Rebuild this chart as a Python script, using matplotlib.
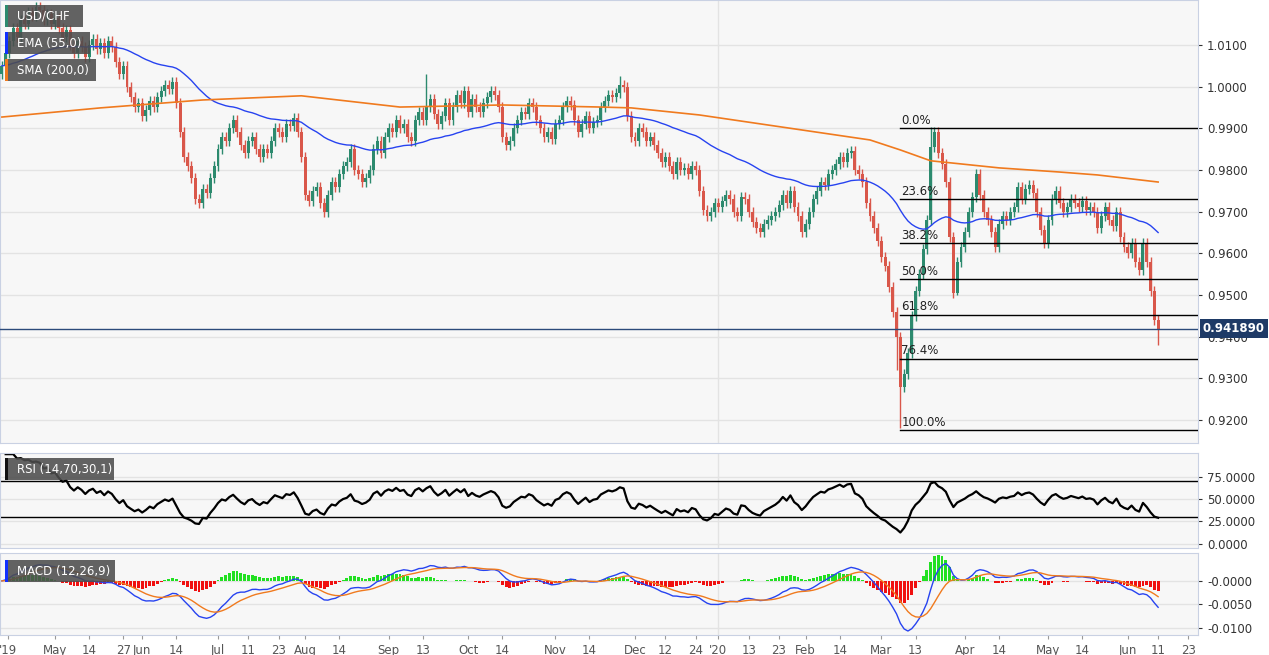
import numpy as np
import pandas as pd
import matplotlib
matplotlib.use('Agg')
import matplotlib.pyplot as plt
from matplotlib.patches import Rectangle

# ---------------------------------------------------------------- data
CLOSES = [
    1.0050, 1.0080, 1.0110, 1.0140, 1.0120, 1.0160, 1.0150, 1.0180, 1.0170, 1.0190, 1.0185,
    1.0160, 1.0175, 1.0150, 1.0165, 1.0140, 1.0120, 1.0135, 1.0100, 1.0080, 1.0110,
    1.0095, 1.0070, 1.0100, 1.0115, 1.0090, 1.0105, 1.0080, 1.0110, 1.0095, 1.0060,
    1.0030, 1.0050, 1.0000, 0.9975, 0.9950, 0.9960, 0.9930, 0.9945, 0.9965, 0.9950,
    0.9975, 0.9990, 1.0005, 0.9995, 1.0010, 0.9960, 0.9890, 0.9830, 0.9810, 0.9780,
    0.9730, 0.9720, 0.9755, 0.9745, 0.9780, 0.9810, 0.9850, 0.9880, 0.9870, 0.9900,
    0.9920, 0.9890, 0.9860, 0.9840, 0.9870, 0.9880, 0.9850, 0.9830, 0.9850, 0.9840,
    0.9870, 0.9900, 0.9890, 0.9880, 0.9910, 0.9905, 0.9925, 0.9890, 0.9830, 0.9740,
    0.9725, 0.9750, 0.9760, 0.9720, 0.9700, 0.9740, 0.9770, 0.9760, 0.9790, 0.9810,
    0.9820, 0.9850, 0.9800, 0.9790, 0.9770, 0.9780, 0.9800, 0.9850, 0.9870, 0.9840,
    0.9880, 0.9900, 0.9890, 0.9920, 0.9900, 0.9910, 0.9880, 0.9870, 0.9920, 0.9940,
    0.9920, 0.9950, 0.9970, 0.9935, 0.9910, 0.9930, 0.9960, 0.9920, 0.9950, 0.9980,
    0.9960, 0.9990, 0.9940, 0.9970, 0.9950, 0.9940, 0.9960, 0.9975, 0.9990, 0.9980,
    0.9950, 0.9880, 0.9860, 0.9870, 0.9900, 0.9920, 0.9940, 0.9935, 0.9960, 0.9950,
    0.9920, 0.9900, 0.9880, 0.9890, 0.9875, 0.9910, 0.9920, 0.9950, 0.9965, 0.9955,
    0.9920, 0.9890, 0.9910, 0.9930, 0.9900, 0.9915, 0.9920, 0.9950, 0.9965, 0.9980,
    0.9975, 0.9985, 1.0005, 1.0000, 0.9930, 0.9880, 0.9870, 0.9900, 0.9890, 0.9870,
    0.9880, 0.9860, 0.9840, 0.9820, 0.9830, 0.9810, 0.9790, 0.9820, 0.9800, 0.9805,
    0.9790, 0.9810, 0.9800, 0.9750, 0.9705, 0.9690, 0.9700, 0.9720, 0.9710, 0.9725,
    0.9740, 0.9730, 0.9700, 0.9690, 0.9735, 0.9730, 0.9700, 0.9675, 0.9660, 0.9650,
    0.9670, 0.9680, 0.9690, 0.9700, 0.9715, 0.9740, 0.9720, 0.9750, 0.9710, 0.9690,
    0.9650, 0.9670, 0.9700, 0.9730, 0.9750, 0.9770, 0.9765, 0.9790, 0.9800, 0.9815,
    0.9830, 0.9820, 0.9840, 0.9845, 0.9800, 0.9790, 0.9770, 0.9720, 0.9690, 0.9660,
    0.9630, 0.9590, 0.9570, 0.9520, 0.9460, 0.9400, 0.9280, 0.9310, 0.9360, 0.9450,
    0.9510, 0.9550, 0.9610, 0.9680, 0.9855, 0.9890, 0.9840, 0.9815, 0.9770, 0.9640,
    0.9505, 0.9580, 0.9615, 0.9650, 0.9700, 0.9735, 0.9790, 0.9740, 0.9700, 0.9680,
    0.9650, 0.9615, 0.9670, 0.9690, 0.9680, 0.9700, 0.9710, 0.9760, 0.9730, 0.9755,
    0.9765, 0.9745, 0.9700, 0.9657, 0.9625, 0.9680, 0.9730, 0.9750, 0.9720, 0.9700,
    0.9710, 0.9730, 0.9720, 0.9710, 0.9725, 0.9705, 0.9710, 0.9700, 0.9660, 0.9690,
    0.9710, 0.9680, 0.9665, 0.9700, 0.9640, 0.9615, 0.9600, 0.9625, 0.9580, 0.9560,
    0.9625, 0.9580, 0.9510, 0.9440, 0.9419,
]
FIRST_OPEN = 1.0030
WICK = 0.0012
HIGH_OVERRIDE = {245: 0.9902, 163: 1.0025, 112: 1.0030}
LOW_OVERRIDE = {237: 0.9180, 236: 0.9320, 305: 0.9380, 252: 0.9500}
LAST_PRICE = 0.941890

# SMA(200) (needs history before the window)
SMA_IDX = [0, 26, 53, 79, 105, 132, 158, 166, 184, 211, 229, 237, 245, 263, 279, 289, 305]
SMA_VAL = [0.9927, 0.9949, 0.9968, 0.9978, 0.9951, 0.9956, 0.9951, 0.9949, 0.9932,
           0.9896, 0.9872, 0.9848, 0.9822, 0.9805, 0.9795, 0.9788, 0.9771]

FIB_HIGH, FIB_LOW = 0.9901, 0.9176
FIB_START = 237
FIB_PCTS = [0.0, 23.6, 38.2, 50.0, 61.8, 76.4, 100.0]

TICK_DATES = ['2019-05-01', '2019-05-14', '2019-05-27', '2019-06-03', '2019-06-14',
              '2019-07-01', '2019-07-11', '2019-07-23', '2019-08-01', '2019-08-14',
              '2019-09-02', '2019-09-13', '2019-10-01', '2019-10-14', '2019-11-01',
              '2019-11-14', '2019-12-02', '2019-12-12', '2019-12-24', '2020-01-01',
              '2020-01-13', '2020-01-23', '2020-02-03', '2020-02-14', '2020-03-02',
              '2020-03-13', '2020-04-01', '2020-04-14', '2020-05-01', '2020-05-14',
              '2020-06-01', '2020-06-11', '2020-06-23']
TICK_LABELS = ['May', '14', '27', 'Jun', '14', 'Jul', '11', '23', 'Aug', '14', 'Sep', '13',
               'Oct', '14', 'Nov', '14', 'Dec', '12', '24', "'20", '13', '23', 'Feb', '14',
               'Mar', '13', 'Apr', '14', 'May', '14', 'Jun', '11', '23']

# ---------------------------------------------------------------- derived
close = np.array(CLOSES)
n = len(close)
opn = np.r_[FIRST_OPEN, close[:-1]]
high = np.maximum(opn, close) + WICK
low = np.minimum(opn, close) - WICK
for k, v in HIGH_OVERRIDE.items(): high[k] = v
for k, v in LOW_OVERRIDE.items(): low[k] = v
x = np.arange(n)

s = pd.Series(close)
ema55 = s.ewm(span=55, adjust=False).mean()
d = s.diff()
up = d.clip(lower=0).ewm(alpha=1/14, adjust=False).mean()
dn = (-d.clip(upper=0)).ewm(alpha=1/14, adjust=False).mean()
rsi = 100 - 100 / (1 + up / dn)
macd = s.ewm(span=12, adjust=False).mean() - s.ewm(span=26, adjust=False).mean()
signal = macd.ewm(span=9, adjust=False).mean()
hist = macd - signal

all_days = pd.bdate_range(end='2020-06-11', periods=n).append(pd.bdate_range('2020-06-12', periods=20))
tick_pos = [all_days.searchsorted(pd.Timestamp(t)) for t in TICK_DATES]

# ---------------------------------------------------------------- figure
BG = '#f7f7f7'
GRID = '#e3e3e3'
EDGE = '#c9d1e3'
UPC, DNC = '#2c8a6e', '#d9574a'
XLIM = (-0.5, 315.5)

fig = plt.figure(figsize=(12.69, 6.55), dpi=100)
ax = fig.add_axes([0.0, 0.324, 0.944, 0.676])
ar = fig.add_axes([0.0, 0.163, 0.944, 0.145])
am = fig.add_axes([0.0, 0.031, 0.944, 0.125])

for a in (ax, ar, am):
    a.set_facecolor(BG)
    a.set_xlim(*XLIM)
    a.yaxis.tick_right()
    a.tick_params(axis='y', labelsize=8.5, colors='#333', length=3)
    for sp in a.spines.values():
        sp.set_color(EDGE)
    a.grid(axis='y', color=GRID, lw=1)
    a.set_axisbelow(True)
    a.axvline(tick_pos[19], color=GRID, lw=1, zorder=0)

# candles
cols = np.where(close >= opn, UPC, DNC)
ax.vlines(x, low, high, colors=cols, lw=1, zorder=2)
body_lo = np.minimum(opn, close)
body_h = np.maximum(np.abs(close - opn), 0.0002)
ax.bar(x, body_h, bottom=body_lo, width=0.78, color=cols, zorder=3)

ax.plot(x, ema55, color='#2743f0', lw=1, zorder=4)
ax.plot(SMA_IDX, SMA_VAL, color='#f07a1e', lw=1.2, zorder=4)

ax.set_ylim(0.9145, 1.0208)
ax.set_yticks(np.arange(0.92, 1.011, 0.01))
ax.set_yticklabels([f'{v:.4f}' for v in np.arange(0.92, 1.011, 0.01)])

# fibonacci
for p in FIB_PCTS:
    lvl = FIB_HIGH - (FIB_HIGH - FIB_LOW) * p / 100
    ax.plot([FIB_START, XLIM[1]], [lvl, lvl], color='black', lw=1, zorder=5)
    ax.text(FIB_START + 0.3, lvl + 0.0003, f'{p:.1f}%', fontsize=8.5, color='#222',
            va='bottom', zorder=6)

# last price
ax.axhline(LAST_PRICE, color='#2b4a7a', lw=1, zorder=5)
ax.text(1.004, LAST_PRICE, f'{LAST_PRICE:.6f}', transform=ax.get_yaxis_transform(),
        fontsize=8.5, color='white', fontweight='bold', va='center', ha='left',
        bbox=dict(boxstyle='square,pad=0.25', fc='#1e3a66', ec='none'), clip_on=False, zorder=7)


def label_box(a, y_top_px, text, stripe, w_px):
    fig_h, fig_w = 655, 1269
    pos = a.get_position()
    h = 22 / fig_h / pos.height
    y0 = (1 - (y_top_px + 22) / fig_h - pos.y0) / pos.height
    a.add_patch(Rectangle((5 / fig_w / pos.width, y0), w_px / fig_w / pos.width, h,
                          transform=a.transAxes, fc='#4d4d4d', alpha=0.88, ec='none',
                          zorder=8, clip_on=False))
    a.add_patch(Rectangle((5 / fig_w / pos.width, y0), 3 / fig_w / pos.width, h,
                          transform=a.transAxes, fc=stripe, ec='none', zorder=9, clip_on=False))
    a.text(17 / fig_w / pos.width, y0 + h / 2, text, transform=a.transAxes, color='white',
           fontsize=8.5, va='center', zorder=10)


label_box(ax, 5, 'USD/CHF', '#2c8a6e', 78)
label_box(ax, 32, 'EMA (55,0)', '#1030ff', 85)
label_box(ax, 59, 'SMA (200,0)', '#f07a1e', 91)

# RSI
ar.plot(x, rsi, color='black', lw=1.6)
ar.axhline(70, color='black', lw=1)
ar.axhline(30, color='black', lw=1)
ar.set_ylim(-5, 101)
ar.set_yticks([0, 25, 50, 75])
ar.set_yticklabels([f'{v:.4f}' for v in [0, 25, 50, 75]])
label_box(ar, 458, 'RSI (14,70,30,1)', '#111111', 109)

# MACD
hc = np.where(hist >= 0, '#22e022', '#f01010')
am.bar(x, hist, width=0.75, color=hc, zorder=2)
am.plot(x, macd, color='#2743f0', lw=1, zorder=3)
am.plot(x, signal, color='#f07a1e', lw=1, zorder=3)
am.set_ylim(-0.0115, 0.0060)
am.set_yticks([-0.01, -0.005, 0.0])
am.set_yticklabels(['-0.0100', '-0.0050', '-0.0000'])
label_box(am, 560, 'MACD (12,26,9)', '#1030ff', 110)

for a in (ax, ar):
    a.set_xticks(tick_pos)
    a.tick_params(axis='x', length=0, labelbottom=False)
am.set_xticks([1.5] + tick_pos)
am.set_xticklabels(["'19"] + TICK_LABELS, fontsize=8.5, color='#555')
am.tick_params(axis='x', length=3, colors='#999', labelcolor='#555')

fig.savefig('out.png', dpi=100, facecolor='white')
